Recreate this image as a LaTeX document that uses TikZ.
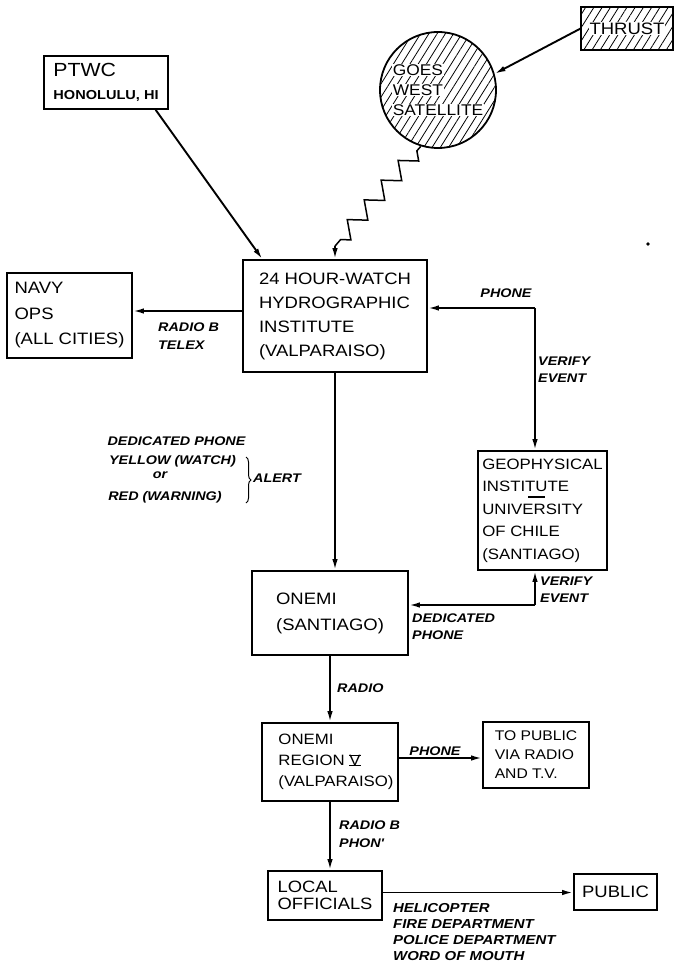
\documentclass[tikz,border=0pt]{standalone}
\usepackage{fontspec}
\newfontfamily\boxfont[FakeStretch=1.12]{Liberation Sans}
\newfontfamily\labfont[FakeStretch=1.15]{Liberation Sans}
\usetikzlibrary{arrows.meta,calc,decorations.pathmorphing,decorations.pathreplacing,patterns.meta}
\newcommand\wbox[1]{{\setlength\fboxsep{1pt}\colorbox{white}{#1}}}
\newcommand\romV{\setbox0\hbox{V}\hbox{\rlap{\rule[-0.4pt]{\wd0}{0.9pt}}\rlap{\raisebox{\dimexpr\ht0-0.5pt\relax}{\rule{\wd0}{0.9pt}}}\box0}}
\begin{document}
\begin{tikzpicture}[x=1pt,y=-1pt,
  box/.style={draw, line width=1.8pt, rectangle, align=left, inner sep=0pt},
  arr/.style={line width=1.9pt, -{Latex[length=11pt,width=5.5pt]}},
  lab/.style={font=\labfont\bfseries\itshape\fontsize{12.5}{18}\selectfont, inner sep=0pt, align=left},
  hatch/.style={pattern={Lines[angle=58,distance=7pt,line width=0.8pt]}}
]
\useasboundingbox (0,0) rectangle (675,971);

% boxes
\node[box, minimum width=124pt, minimum height=53pt, font=\boxfont\fontsize{19}{23}\selectfont] (ptwc) at (106,82.5)
  {PTWC\\{\fontsize{13}{23}\selectfont\bfseries HONOLULU, HI}};
\node[box, hatch, minimum width=92pt, minimum height=43pt, font=\boxfont\fontsize{16.5}{20}\selectfont] (thrust) at (627,28.5) {\wbox{THRUST}};
\node[circle, draw, line width=1.8pt, hatch, minimum size=116pt, inner sep=0pt, align=left,
  font=\boxfont\fontsize{15.5}{20}\selectfont] (goes) at (438,90)
  {\wbox{GOES}\\\wbox{WEST}\\\wbox{SATELLITE}};
\node[box, minimum width=184pt, minimum height=112pt, font=\boxfont\fontsize{16.5}{24}\selectfont] (hw) at (335,316)
  {24 HOUR-WATCH\\HYDROGRAPHIC\\INSTITUTE\\(VALPARAISO)};
\node[box, minimum width=125pt, minimum height=85pt, font=\boxfont\fontsize{16.5}{25.5}\selectfont] (navy) at (69.5,315.5)
  {NAVY\\OPS\\(ALL CITIES)};
\node[box, minimum width=129pt, minimum height=119pt, font=\boxfont\fontsize{15}{22.5}\selectfont] (geo) at (542.5,510.5)
  {GEOPHYSICAL\\INSTITUTE\\UNIVERSITY\\OF CHILE\\(SANTIAGO)};
\node[box, minimum width=156pt, minimum height=84pt, font=\boxfont\fontsize{16.5}{26}\selectfont] (onemi) at (330,613)
  {ONEMI\\(SANTIAGO)};
\node[box, minimum width=136pt, minimum height=78pt, font=\boxfont\fontsize{15}{21}\selectfont] (regv) at (330,762)
  {\hspace*{12pt}ONEMI\\\hspace*{12pt}REGION \romV\\\hspace*{12pt}(VALPARAISO)};
\node[box, minimum width=106pt, minimum height=66pt, font=\boxfont\fontsize{14}{19}\selectfont] (topub) at (536,755)
  {TO PUBLIC\\VIA RADIO\\AND T.V.};
\node[box, minimum width=114pt, minimum height=49pt, font=\boxfont\fontsize{16.4}{17}\selectfont] (local) at (325,895.5)
  {LOCAL\\OFFICIALS};
\node[box, minimum width=83pt, minimum height=36pt, font=\boxfont\fontsize{16.5}{20}\selectfont] (public) at (615.5,892)
  {PUBLIC};

% bar in geophysical box
\draw[line width=1.2pt] (528,497) -- (545,497);

% connectors
\draw[arr] ($(ptwc.south west)!0.895!(ptwc.south east)$) -- ($(hw.north west)!0.109!(hw.north east)$);
\draw[arr] (thrust.west) -- (goes.16);
\coordinate (zz) at ([yshift=13pt]hw.north);
\draw[line width=1.5pt, decorate, decoration={zigzag, segment length=26pt, amplitude=8pt, pre length=6pt, post length=4pt}] (goes.253) -- (zz);
\draw[arr] (zz) -- (hw.north);
\draw[arr] ([yshift=5pt]hw.west) -- ([yshift=5pt]hw.west -| navy.east);
\coordinate (pc) at (535,308);
\draw[arr] (pc) -- (pc -| hw.east);
\draw[arr] (pc) -- (pc |- geo.north);
\coordinate (qc) at (535,605);
\draw[arr] (qc) -- (qc |- geo.south);
\draw[arr] (qc) -- (qc -| onemi.east);
\draw[arr] (hw.south) -- (hw.south |- onemi.north);
\draw[arr] (onemi.south) -- (regv.north);
\draw[arr] ([yshift=4pt]regv.east) -- ([yshift=4pt]regv.east -| topub.west);
\draw[arr] (regv.south) -- (regv.south |- local.north);
\draw[arr] ([yshift=3pt]local.east) -- ([yshift=3pt]local.east -| public.west);

% labels
\node[lab, anchor=west] (l1) at (158,336.5) {RADIO B\\TELEX};
\node[lab] (l2) at (506,293) {PHONE};
\node[lab, anchor=west, font=\labfont\bfseries\itshape\fontsize{12.5}{17}\selectfont] (l3) at (538,370) {VERIFY\\EVENT};
\node[lab] (a1) at (176.5,441) {DEDICATED PHONE};
\node[lab] (a2) at (172.5,461) {YELLOW (WATCH)};
\node[lab] (a3) at (160,475) {or};
\node[lab] (a4) at (165,497) {RED (WARNING)};
\draw[line width=1pt, decorate, decoration={brace, amplitude=5pt}] (246,457) -- (246,503);
\node[lab, anchor=west] (a5) at (253,478) {ALERT};
\node[lab, anchor=west, font=\labfont\bfseries\itshape\fontsize{12.5}{17}\selectfont] (l4) at (540,590) {VERIFY\\EVENT};
\node[lab, anchor=west, font=\labfont\bfseries\itshape\fontsize{12.5}{17}\selectfont] (l5) at (412,626.5) {DEDICATED\\PHONE};
\node[lab, anchor=west] (l6) at (337,688) {RADIO};
\node[lab] (l7) at (435,751) {PHONE};
\node[lab, anchor=west] (l8) at (339,834) {RADIO B\\PHON'};
\node[lab, anchor=north west, font=\labfont\bfseries\itshape\fontsize{13}{16}\selectfont] (l9) at (393,903)
  {HELICOPTER\\FIRE DEPARTMENT\\POLICE DEPARTMENT\\WORD OF MOUTH};

% stray dot
\fill (648,244) circle (1.8pt);
\end{tikzpicture}
\end{document}
